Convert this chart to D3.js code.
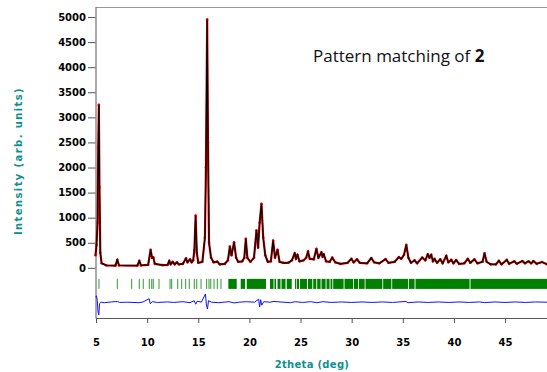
<!DOCTYPE html>
<html>
<head>
<meta charset="utf-8">
<script src="https://cdn.jsdelivr.net/npm/d3@7"></script>
<style>
  body { margin: 0; background: #fff; }
  .axis text { font-family: "DejaVu Sans", Verdana, sans-serif; font-weight: bold; font-size: 10px; fill: #000; }
  .axis path, .axis line { stroke: #555; }
  .axis-title { font-family: "DejaVu Sans", Verdana, sans-serif; font-weight: bold; font-size: 10px; fill: #0f8f8f; }
</style>
</head>
<body>
<svg id="chart"></svg>
<script>
const observedProfile = [
  [4.95, 250], [5.05, 450], [5.15, 900], [5.22, 2400], [5.28, 3250], [5.34, 1600], [5.42, 300], [5.55, 90],
  [6.0, 50], [6.9, 45], [7.08, 160], [7.25, 50], [9.05, 45], [9.23, 140], [9.4, 50], [10.1, 60],
  [10.34, 360], [10.48, 200], [10.6, 210], [10.75, 80], [11.5, 55], [12.0, 60], [12.16, 140], [12.3, 70],
  [12.5, 120], [12.7, 70], [12.9, 110], [13.1, 70], [13.5, 80], [13.8, 190], [13.95, 110], [14.2, 170],
  [14.35, 110], [14.5, 150], [14.62, 350], [14.74, 1040], [14.86, 300], [15.0, 100], [15.4, 120], [15.65, 600],
  [15.75, 2000], [15.87, 4950], [15.95, 2500], [16.05, 500], [16.25, 200], [16.5, 110], [16.85, 125], [17.1, 70],
  [17.6, 80], [17.9, 150], [18.09, 425], [18.25, 250], [18.5, 510], [18.7, 200], [18.9, 120], [19.3, 130],
  [19.5, 200], [19.65, 580], [19.8, 200], [20.1, 120], [20.45, 200], [20.69, 745], [20.85, 400], [21.0, 900],
  [21.18, 1275], [21.35, 600], [21.55, 250], [21.8, 120], [22.1, 130], [22.32, 545], [22.5, 200], [22.75, 360],
  [22.95, 120], [23.3, 100], [23.8, 100], [24.15, 150], [24.43, 290], [24.55, 180], [24.7, 260], [24.9, 130],
  [25.3, 150], [25.55, 200], [25.73, 325], [25.9, 180], [26.3, 170], [26.55, 380], [26.75, 200], [27.04, 310],
  [27.15, 220], [27.27, 270], [27.5, 130], [27.85, 120], [28.1, 205], [28.4, 110], [28.9, 80], [29.6, 100],
  [29.97, 180], [30.2, 110], [30.52, 170], [30.8, 100], [31.5, 90], [31.92, 195], [32.2, 110], [32.7, 90],
  [33.32, 175], [33.6, 100], [34.2, 120], [34.62, 215], [34.85, 180], [35.12, 260], [35.34, 460], [35.55, 200],
  [35.8, 100], [36.15, 150], [36.4, 90], [36.9, 205], [37.2, 150], [37.45, 270], [37.6, 200], [37.78, 260],
  [37.95, 130], [38.1, 180], [38.35, 100], [38.66, 170], [38.9, 90], [39.25, 240], [39.45, 110], [39.74, 160],
  [39.95, 90], [40.22, 155], [40.5, 80], [41.0, 90], [41.36, 180], [41.6, 100], [42.0, 170], [42.3, 90],
  [42.8, 120], [42.99, 290], [43.2, 120], [43.6, 70], [44.1, 70], [44.4, 140], [44.65, 70], [45.17, 160],
  [45.4, 80], [45.9, 130], [46.15, 80], [46.7, 135], [46.95, 90], [47.3, 130], [47.55, 90], [47.77, 135],
  [48.1, 80], [48.6, 115], [49.1, 70],
];

// obs - calc, [2theta, difference]
const differenceProfile = [
  [4.95, 110], [5.05, 125], [5.12, 40], [5.2, -200], [5.27, -255], [5.35, -30], [5.5, 0], [5.8, -10],
  [6.5, 5], [7.1, 15], [7.3, -5], [8.0, 0], [9.2, -10], [9.6, 5], [10.2, 70], [10.3, -30], [10.5, 10],
  [11.0, -5], [12.0, 5], [12.6, -5], [13.5, 10], [14.2, -10], [14.6, 30], [14.75, -40], [14.9, 20],
  [15.3, 0], [15.7, 165], [15.8, -60], [15.9, -135], [16.0, 30], [16.3, 0], [17.0, -10], [18.0, 10],
  [18.5, -15], [19.0, 0], [19.7, 10], [20.5, 0], [20.9, 60], [21.0, -95], [21.1, 50], [21.2, -60],
  [21.4, 10], [22.0, 0], [22.4, 15], [23.0, 5], [24.0, -10], [24.5, 10], [25.2, -5], [26.0, 10],
  [26.6, -10], [27.2, 10], [28.0, -5], [29.0, 5], [30.0, -5], [31.0, 5], [32.0, -5], [33.0, 5],
  [34.0, -5], [35.3, 15], [35.5, -10], [36.5, 5], [37.5, -5], [38.5, 5], [39.5, -5], [40.5, 5],
  [41.5, -5], [42.5, 5], [43.0, -8], [44.0, 5], [45.0, -5], [46.0, 5], [47.0, -5], [48.0, 5], [49.1, 0],
];

// isolated Bragg reflection positions (2theta)
const braggPositions = [
  5.29, 7.08, 8.49, 9.23, 9.62, 10.21, 10.45, 10.60, 11.16, 12.24, 12.40, 12.99,
  13.38, 13.77, 14.12, 14.61, 14.85, 15.27, 15.82, 16.05, 16.22, 16.54, 16.86, 17.22,
];

// ranges where reflections are too close to separate, [from, to]
const braggBands = [
  [17.94, 18.76], [19.15, 19.57], [19.74, 21.62], [22.01, 22.36], [22.45, 22.60], [22.75, 23.04],
  [23.14, 23.53], [23.65, 24.14], [24.46, 24.56], [24.63, 24.85], [24.95, 25.63], [25.73, 26.15],
  [26.24, 26.54], [26.63, 26.96], [27.05, 27.45], [27.54, 27.84], [27.93, 28.11], [28.19, 29.21],
  [29.30, 30.13], [30.21, 30.62], [30.70, 31.27], [31.35, 33.00], [33.08, 33.88], [33.96, 35.51],
  [35.59, 36.15], [36.24, 41.53], [41.62, 49.1],
];

const xTicks = [5, 10, 15, 20, 25, 30, 35, 40, 45];
const yTicks = [0, 500, 1000, 1500, 2000, 2500, 3000, 3500, 4000, 4500, 5000];

class PatternChart {
  constructor(_config) {
    this.config = {
      parentElement: _config.parentElement,
      containerWidth: 547,
      containerHeight: 372,
      plotLeft: 95.5,
      plotRight: 547,
      plotTop: 7,
      plotBottom: 318,
      diffOffset: -685,
      braggTop: -220,
      braggBottom: -420,
    };
    this.initVis();
  }

  initVis() {
    const vis = this;
    const c = vis.config;

    vis.svg = d3.select(c.parentElement)
      .attr('width', c.containerWidth)
      .attr('height', c.containerHeight);

    vis.xScale = d3.scaleLinear()
      .domain([4.95, 49.1])
      .range([c.plotLeft, c.plotRight]);

    vis.yScale = d3.scaleLinear()
      .domain([-1000, 5200])
      .range([c.plotBottom, c.plotTop]);

    vis.xAxis = d3.axisBottom(vis.xScale)
      .tickValues(xTicks)
      .tickFormat(d3.format('d'))
      .tickSize(5)
      .tickSizeOuter(0)
      .tickPadding(16);

    vis.yAxis = d3.axisLeft(vis.yScale)
      .tickValues(yTicks)
      .tickFormat(d3.format('d'))
      .tickSize(7.5)
      .tickSizeOuter(0)
      .tickPadding(2);

    // top frame line
    vis.svg.append('line')
      .attr('x1', c.plotLeft)
      .attr('x2', c.plotRight)
      .attr('y1', c.plotTop + 0.5)
      .attr('y2', c.plotTop + 0.5)
      .attr('stroke', '#999');

    vis.xAxisG = vis.svg.append('g')
      .attr('class', 'axis x-axis')
      .attr('transform', `translate(0,${c.plotBottom})`);

    vis.yAxisG = vis.svg.append('g')
      .attr('class', 'axis y-axis')
      .attr('transform', `translate(${c.plotLeft},0)`);

    vis.insertText();
    vis.renderVis();
  }

  renderVis() {
    const vis = this;
    const c = vis.config;

    const line = d3.line()
      .x((d) => vis.xScale(d[0]))
      .y((d) => vis.yScale(d[1]));

    // observed (red)
    vis.svg.append('path')
      .datum(observedProfile)
      .attr('d', line)
      .attr('fill', 'none')
      .attr('stroke', '#e50000')
      .attr('stroke-width', 2.2)
      .attr('stroke-linejoin', 'round');

    vis.svg.selectAll('.obs-dot')
      .data(observedProfile)
      .join('circle')
      .attr('class', 'obs-dot')
      .attr('cx', (d) => vis.xScale(d[0]))
      .attr('cy', (d) => vis.yScale(d[1]))
      .attr('r', 1.3)
      .attr('fill', '#e50000');

    // calculated (black)
    vis.svg.append('path')
      .datum(observedProfile)
      .attr('d', line)
      .attr('fill', 'none')
      .attr('stroke', '#000')
      .attr('stroke-width', 1.2);

    // Bragg positions
    vis.svg.selectAll('.bragg')
      .data(braggPositions)
      .join('line')
      .attr('class', 'bragg')
      .attr('x1', (d) => vis.xScale(d))
      .attr('x2', (d) => vis.xScale(d))
      .attr('y1', vis.yScale(c.braggTop))
      .attr('y2', vis.yScale(c.braggBottom))
      .attr('stroke', '#2e9a2e')
      .attr('stroke-width', 1);

    vis.svg.selectAll('.bragg-band')
      .data(braggBands)
      .join('rect')
      .attr('class', 'bragg-band')
      .attr('x', (d) => vis.xScale(d[0]))
      .attr('width', (d) => vis.xScale(d[1]) - vis.xScale(d[0]))
      .attr('y', vis.yScale(c.braggTop))
      .attr('height', vis.yScale(c.braggBottom) - vis.yScale(c.braggTop))
      .attr('fill', '#008000');

    // difference curve (blue)
    const diffLine = d3.line()
      .x((d) => vis.xScale(d[0]))
      .y((d) => vis.yScale(d[1] + c.diffOffset));

    vis.svg.append('path')
      .datum(differenceProfile)
      .attr('d', diffLine)
      .attr('fill', 'none')
      .attr('stroke', '#1010ff')
      .attr('stroke-width', 1);

    vis.xAxisG.call(vis.xAxis);
    vis.yAxisG.call(vis.yAxis);
  }

  insertText() {
    const vis = this;

    vis.svg.append('text')
      .attr('class', 'axis-title')
      .text('2theta (deg)')
      .attr('text-anchor', 'middle')
      .attr('letter-spacing', 0.3)
      .attr('x', 312)
      .attr('y', 368);

    vis.svg.append('text')
      .attr('class', 'axis-title')
      .text('Intensity (arb. units)')
      .attr('text-anchor', 'middle')
      .attr('letter-spacing', 1.4)
      .attr('transform', 'translate(22,161) rotate(-90)');

    const note = vis.svg.append('text')
      .attr('x', 313)
      .attr('y', 62)
      .attr('font-family', '"Open Sans", "Noto Sans", sans-serif')
      .attr('font-size', 17)
      .attr('fill', '#111');
    note.append('tspan').text('Pattern matching of ');
    note.append('tspan').attr('font-weight', 'bold').text('2');
  }
}

const chart = new PatternChart({ parentElement: '#chart' });
</script>
</body>
</html>
